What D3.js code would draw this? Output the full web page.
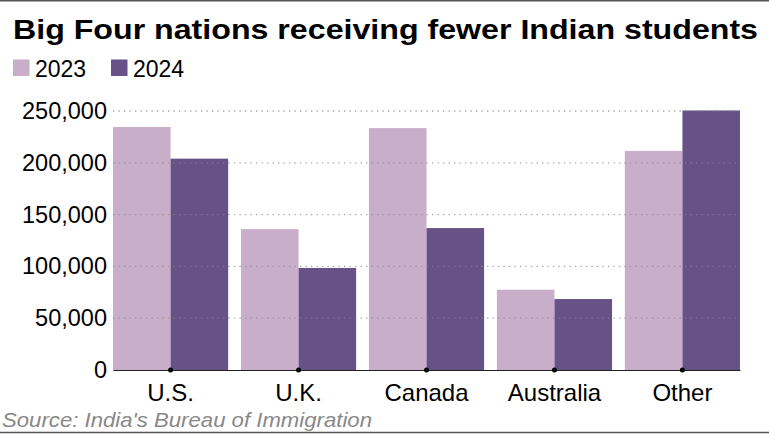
<!DOCTYPE html>
<html>
<head>
<meta charset="utf-8">
<script src="https://cdn.jsdelivr.net/npm/d3@7"></script>
<style>
  body { margin: 0; background: #fff; }
  svg { display: block; font-family: "Liberation Sans", Arial, sans-serif; }
</style>
</head>
<body>
<svg></svg>
<script>
// data
const countries = ['U.S.', 'U.K.', 'Canada', 'Australia', 'Other'];
const years = ['2023', '2024'];
const students2023 = [234500, 136000, 233500, 77500, 211500];
const students2024 = [204000, 98500, 137000, 68500, 250500];
const yTicks = [0, 50000, 100000, 150000, 200000, 250000];
const colors = ['#c8aec9', '#675287'];

const size = {w: 769, h: 434};
const margin = {t: 111, r: 29, b: 64, l: 113};
const svg = d3.select('svg')
    .attr('width', size.w)
    .attr('height', size.h);

const rows = countries.map((c, i) => ({country: c, values: [students2023[i], students2024[i]]}));

// scales
const x = d3.scaleBand()
    .domain(countries)
    .range([margin.l, size.w - margin.r])
    .paddingInner(0.1)
    .paddingOuter(0);

const xSub = d3.scaleBand()
    .domain(years)
    .range([0, x.bandwidth()]);

const y = d3.scaleLinear()
    .domain([0, 250000])
    .range([size.h - margin.b, margin.t]);

// frame lines top and bottom
svg.append('line')
    .attr('x1', 0).attr('x2', size.w)
    .attr('y1', 0.75).attr('y2', 0.75)
    .attr('stroke', '#555').attr('stroke-width', 1.5);
svg.append('line')
    .attr('x1', 0).attr('x2', size.w)
    .attr('y1', 432.5).attr('y2', 432.5)
    .attr('stroke', '#555').attr('stroke-width', 1.5);

// title - the original font runs wider, so stretch it to the same length
svg.append('text')
    .attr('x', 13).attr('y', 39)
    .attr('font-size', 28).attr('font-weight', 'bold')
    .attr('fill', '#000')
    .attr('textLength', 745)
    .attr('lengthAdjust', 'spacingAndGlyphs')
    .text('Big Four nations receiving fewer Indian students');

// legend
const legend = svg.append('g').classed('legend', true);
const legendX = [13, 111];
years.forEach((yr, i) => {
    legend.append('rect')
        .attr('x', legendX[i]).attr('y', 59.5)
        .attr('width', 16.5).attr('height', 16.5)
        .attr('fill', colors[i]);
    legend.append('text')
        .attr('x', legendX[i] + 22).attr('y', 76.5)
        .attr('font-size', 23)
        .attr('fill', '#000')
        .text(yr);
});

// bars
const barsG = svg.append('g').classed('bars', true);
barsG.selectAll('g')
    .data(rows)
    .join('g')
    .attr('transform', d => `translate(${x(d.country)},0)`)
    .selectAll('rect')
    .data(d => d.values.map((v, i) => ({year: years[i], value: v, i: i})))
    .join('rect')
    .attr('x', d => xSub(d.year))
    .attr('y', d => y(d.value))
    .attr('width', xSub.bandwidth())
    .attr('height', d => y(0) - y(d.value))
    .attr('fill', d => colors[d.i]);

// dotted gridlines drawn over the bars
const gridG = svg.append('g').classed('grid', true);
gridG.selectAll('line')
    .data(yTicks.filter(t => t > 0))
    .join('line')
    .attr('x1', margin.l).attr('x2', size.w - margin.r - 4)
    .attr('y1', d => y(d)).attr('y2', d => y(d))
    .attr('stroke', '#888')
    .attr('stroke-opacity', 0.75)
    .attr('stroke-width', 1.3)
    .attr('stroke-dasharray', '1.3,4.2');

// y axis labels
const yAxis = d3.axisLeft(y)
    .tickValues(yTicks)
    .tickSize(0)
    .tickPadding(6)
    .tickFormat(d3.format(','));
svg.append('g')
    .attr('transform', `translate(${margin.l},0)`)
    .call(yAxis)
    .call(g => g.select('.domain').remove())
    .call(g => g.selectAll('text')
        .attr('font-size', 23.5)
        .attr('font-family', '"Liberation Sans", Arial, sans-serif')
        .attr('fill', '#000'));

// x axis
const xAxis = d3.axisBottom(x).tickSize(0);
const xG = svg.append('g')
    .attr('transform', `translate(0,${y(0)})`)
    .call(xAxis);
xG.select('.domain').attr('stroke', '#222').attr('stroke-width', 1.2);
xG.selectAll('text')
    .attr('font-size', 24)
    .attr('font-family', '"Liberation Sans", Arial, sans-serif')
    .attr('fill', '#000')
    .attr('y', 31)
    .attr('dy', 0);
xG.selectAll('.tick').append('circle')
    .attr('r', 2.5)
    .attr('cx', 0)
    .attr('fill', '#000');

// source
svg.append('text')
    .attr('x', 2).attr('y', 426.5)
    .attr('font-size', 21).attr('font-style', 'italic')
    .attr('fill', '#888')
    .attr('textLength', 370)
    .attr('lengthAdjust', 'spacingAndGlyphs')
    .text("Source: India's Bureau of Immigration");
</script>
</body>
</html>
